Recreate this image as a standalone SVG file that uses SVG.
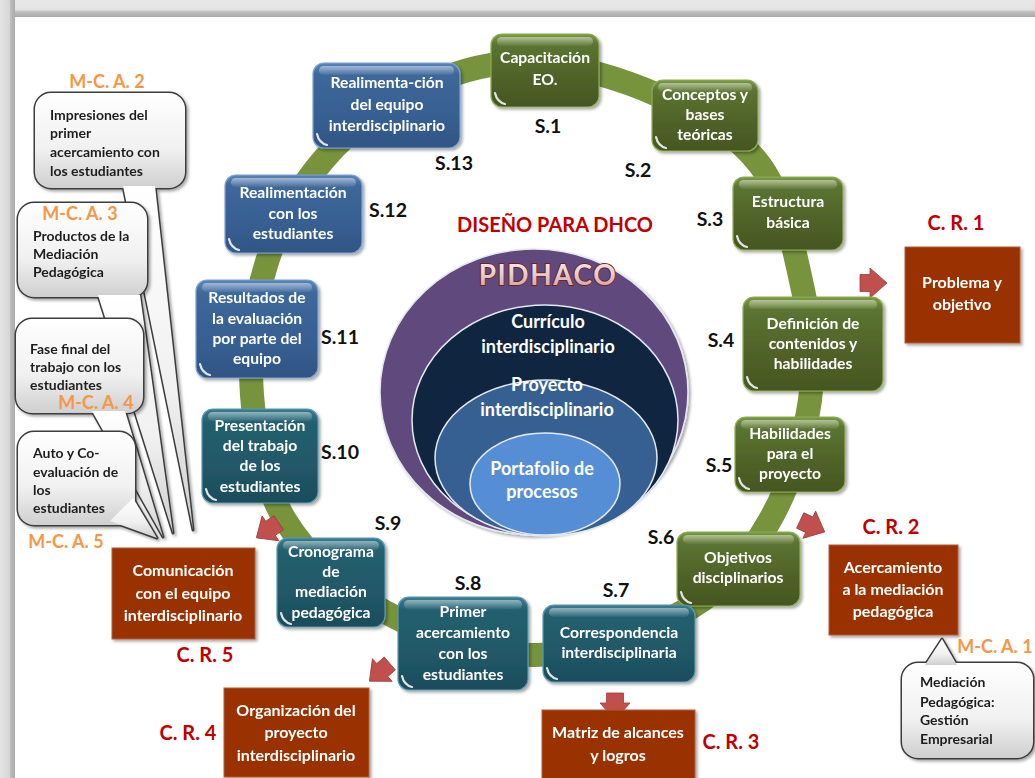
<svg xmlns="http://www.w3.org/2000/svg" width="1035" height="778" viewBox="0 0 1035 778">
  <defs>
    <style>
      text { font-family: Lato, "Open Sans", "Liberation Sans", sans-serif; font-weight: bold; }
      .nt { font-size: 15.7px; fill: #ffffff; text-anchor: middle; }
      .bt { font-size: 16px; fill: #ffffff; text-anchor: middle; }
      .ct { font-size: 18px; fill: #ffffff; text-anchor: middle; }
      .sl { font-size: 19.5px; fill: #111111; text-anchor: middle; }
      .cr { font-size: 20px; fill: #c00000; text-anchor: middle; }
      .mc { font-size: 18px; fill: #f79646; text-anchor: middle; }
      .co { font-size: 14px; fill: #1f1f1f; }
      .ring { fill: none; stroke: #77933c; stroke-width: 24; }
      .green { fill: url(#gGreen); stroke: #8fae55; stroke-width: 1.2; }
      .teal { fill: url(#gTeal); stroke: #5a9bb0; stroke-width: 1.2; }
      .blue { fill: url(#gBlue); stroke: #7ea3d2; stroke-width: 1.2; }
      .gloss { fill: url(#gGloss); }
      .hl { fill: none; stroke: #ffffff; stroke-width: 2.2; stroke-linecap: round; opacity: 0.85; }
      .rbox { fill: #993300; stroke: #b35a3a; stroke-width: 1; }
      .arr { fill: #c0504d; stroke: #9e3c39; stroke-width: 0.8; }
      .co-edge { fill: #3c3c3c; stroke: #3c3c3c; stroke-width: 3; stroke-linejoin: round; }
      .co-fill { fill: url(#gCallout); stroke: none; }
      .ell { stroke: #e4e9f0; stroke-width: 1.5; }
    </style>
    <linearGradient id="gGreen" x1="0" y1="0" x2="0" y2="1">
      <stop offset="0" stop-color="#7c9b45"/>
      <stop offset="0.14" stop-color="#5b7431"/>
      <stop offset="0.6" stop-color="#4f6228"/>
      <stop offset="1" stop-color="#45561f"/>
    </linearGradient>
    <linearGradient id="gTeal" x1="0" y1="0" x2="0" y2="1">
      <stop offset="0" stop-color="#3b7d90"/>
      <stop offset="0.14" stop-color="#24606f"/>
      <stop offset="0.6" stop-color="#215868"/>
      <stop offset="1" stop-color="#1b4c5a"/>
    </linearGradient>
    <linearGradient id="gBlue" x1="0" y1="0" x2="0" y2="1">
      <stop offset="0" stop-color="#5b84b8"/>
      <stop offset="0.14" stop-color="#3d679a"/>
      <stop offset="0.6" stop-color="#376092"/>
      <stop offset="1" stop-color="#305584"/>
    </linearGradient>
    <linearGradient id="gGloss" x1="0" y1="0" x2="0" y2="1">
      <stop offset="0" stop-color="#ffffff" stop-opacity="0.45"/>
      <stop offset="1" stop-color="#ffffff" stop-opacity="0.05"/>
    </linearGradient>
    <linearGradient id="gCallout" x1="0" y1="0" x2="0" y2="1">
      <stop offset="0" stop-color="#ffffff"/>
      <stop offset="0.6" stop-color="#f0f0f0"/>
      <stop offset="1" stop-color="#cfcfcf"/>
    </linearGradient>
    <linearGradient id="gPid" x1="0" y1="0" x2="0" y2="1">
      <stop offset="0" stop-color="#f2f2f2"/>
      <stop offset="0.5" stop-color="#e3cfcf"/>
      <stop offset="1" stop-color="#c99a9a"/>
    </linearGradient>
    <linearGradient id="gTop" x1="0" y1="0" x2="0" y2="1">
      <stop offset="0" stop-color="#e8e8e8"/>
      <stop offset="0.6" stop-color="#e2e2e2"/>
      <stop offset="0.65" stop-color="#c4c4c4"/>
      <stop offset="1" stop-color="#a9a9a9"/>
    </linearGradient>
    <linearGradient id="gLeft" x1="0" y1="0" x2="1" y2="0">
      <stop offset="0" stop-color="#e4e4e4"/>
      <stop offset="0.65" stop-color="#d6d6d6"/>
      <stop offset="0.7" stop-color="#bdbdbd"/>
      <stop offset="1" stop-color="#aaaaaa"/>
    </linearGradient>
    <filter id="sh" x="-20%" y="-20%" width="140%" height="140%">
      <feDropShadow dx="2" dy="2" stdDeviation="1.6" flood-color="#000000" flood-opacity="0.35"/>
    </filter>
    <path id="blk" d="M-13,-8.5 H-3 V-15 L14,0 L-3,15 V8.5 H-13 Z"/>
  </defs>

  <!-- page frame -->
  <rect x="0" y="0" width="1035" height="778" fill="#ffffff"/>
  <rect x="0" y="0" width="1035" height="17" fill="url(#gTop)"/>
  <rect x="0" y="0" width="15" height="778" fill="url(#gLeft)"/>

  <!-- connector ring and result arrows -->
  <g id="connectors">
    <path class="ring" d="M530,62 C570,63.3 621.7,78.8 660,96 C698.3,113.2 736.2,132.7 760,165 C783.8,197.3 794.7,250.8 803,290 C811.3,329.2 815.5,361.7 810,400 C804.5,438.3 790,485.3 770,520 C750,554.7 729.2,585.5 690,608 C650.8,630.5 585.8,654.3 535,655 C484.2,655.7 426.7,634.5 385,612 C343.3,589.5 307.2,556.2 285,520 C262.8,483.8 255.2,437.5 252,395 C248.8,352.5 253.8,304.5 266,265 C278.2,225.5 299.3,187.5 325,158 C350.7,128.5 385.8,104 420,88 C454.2,72 490,60.7 530,62 Z"/>
    <use href="#blk" class="arr" transform="translate(873,283)"/>
    <use href="#blk" class="arr" transform="translate(812,526) rotate(25)"/>
    <use href="#blk" class="arr" transform="translate(615,706) rotate(90)"/>
    <use href="#blk" class="arr" transform="translate(380,672) rotate(139)"/>
    <use href="#blk" class="arr" transform="translate(268,530) rotate(146)"/>
  </g>

  <!-- central nested ellipses -->
  <g id="core">
    <ellipse class="ell" cx="534" cy="392" rx="154" ry="143" fill="#604a7b" filter="url(#sh)"/>
    <ellipse class="ell" cx="545" cy="420" rx="133" ry="115" fill="#10253f"/>
    <ellipse class="ell" cx="546" cy="458" rx="111" ry="78" fill="#376092"/>
    <ellipse class="ell" cx="545" cy="484" rx="75" ry="51" fill="#558ed5"/>
    <text x="548" y="285" font-size="28" font-weight="900" letter-spacing="1.5" text-anchor="middle" fill="url(#gPid)" stroke="#7a1c1c" stroke-width="1.8" paint-order="stroke">PIDHACO</text>
    <text class="ct" x="548" y="328">Currículo</text>
    <text class="ct" x="548" y="353">interdisciplinario</text>
    <text class="ct" x="547" y="391">Proyecto</text>
    <text class="ct" x="547" y="416">interdisciplinario</text>
    <text class="ct" x="542" y="475">Portafolio de</text>
    <text class="ct" x="542" y="498">procesos</text>
  </g>
  <text class="cr" x="555" y="232" font-size="21">DISEÑO PARA DHCO</text>

  <!-- stage nodes -->
  <g id="s1" filter="url(#sh)">
    <rect class="green" x="491" y="34" width="108" height="73" rx="11"/>
    <rect class="gloss" x="497" y="37" width="96" height="9" rx="4.5"/>
    <path class="hl" d="M495,93 q2,9 10,11"/>
    <text class="nt" x="545" y="63">Capacitación</text>
    <text class="nt" x="545" y="85">EO.</text>
  </g>
  <g id="s2" filter="url(#sh)">
    <rect class="green" x="652" y="80" width="106" height="71" rx="11"/>
    <rect class="gloss" x="658" y="83" width="94" height="9" rx="4.5"/>
    <path class="hl" d="M656,137 q2,9 10,11"/>
    <text class="nt" x="705" y="100">Conceptos y</text>
    <text class="nt" x="705" y="120">bases</text>
    <text class="nt" x="705" y="140">teóricas</text>
  </g>
  <g id="s3" filter="url(#sh)">
    <rect class="green" x="733" y="177" width="110" height="73" rx="11"/>
    <rect class="gloss" x="739" y="180" width="98" height="9" rx="4.5"/>
    <path class="hl" d="M737,236 q2,9 10,11"/>
    <text class="nt" x="788" y="207">Estructura</text>
    <text class="nt" x="788" y="228">básica</text>
  </g>
  <g id="s4" filter="url(#sh)">
    <rect class="green" x="743" y="297" width="140" height="94" rx="11"/>
    <rect class="gloss" x="749" y="300" width="128" height="9" rx="4.5"/>
    <path class="hl" d="M747,377 q2,9 10,11"/>
    <text class="nt" x="813" y="329">Definición de</text>
    <text class="nt" x="813" y="349">contenidos y</text>
    <text class="nt" x="813" y="369">habilidades</text>
  </g>
  <g id="s5" filter="url(#sh)">
    <rect class="green" x="735" y="417" width="110" height="75" rx="11"/>
    <rect class="gloss" x="741" y="420" width="98" height="9" rx="4.5"/>
    <path class="hl" d="M739,478 q2,9 10,11"/>
    <text class="nt" x="790" y="439">Habilidades</text>
    <text class="nt" x="790" y="459">para el</text>
    <text class="nt" x="790" y="479">proyecto</text>
  </g>
  <g id="s6" filter="url(#sh)">
    <rect class="green" x="677" y="532" width="123" height="74" rx="11"/>
    <rect class="gloss" x="683" y="535" width="111" height="9" rx="4.5"/>
    <path class="hl" d="M681,592 q2,9 10,11"/>
    <text class="nt" x="738" y="563">Objetivos</text>
    <text class="nt" x="738" y="583">disciplinarios</text>
  </g>
  <g id="s7" filter="url(#sh)">
    <rect class="teal" x="543" y="605" width="152" height="77" rx="11"/>
    <rect class="gloss" x="549" y="608" width="140" height="9" rx="4.5"/>
    <path class="hl" d="M547,668 q2,9 10,11"/>
    <text class="nt" x="619" y="638">Correspondencia</text>
    <text class="nt" x="619" y="658">interdisciplinaria</text>
  </g>
  <g id="s8" filter="url(#sh)">
    <rect class="teal" x="398" y="597" width="130" height="93" rx="11"/>
    <rect class="gloss" x="404" y="600" width="118" height="9" rx="4.5"/>
    <path class="hl" d="M402,676 q2,9 10,11"/>
    <text class="nt" x="463" y="617">Primer</text>
    <text class="nt" x="463" y="638">acercamiento</text>
    <text class="nt" x="463" y="659">con los</text>
    <text class="nt" x="463" y="680">estudiantes</text>
  </g>
  <g id="s9" filter="url(#sh)">
    <rect class="teal" x="277" y="538" width="108" height="89" rx="11"/>
    <rect class="gloss" x="283" y="541" width="96" height="9" rx="4.5"/>
    <path class="hl" d="M281,613 q2,9 10,11"/>
    <text class="nt" x="331" y="557">Cronograma</text>
    <text class="nt" x="331" y="577">de</text>
    <text class="nt" x="331" y="597">mediación</text>
    <text class="nt" x="331" y="618">pedagógica</text>
  </g>
  <g id="s10" filter="url(#sh)">
    <rect class="teal" x="202" y="409" width="116" height="94" rx="11"/>
    <rect class="gloss" x="208" y="412" width="104" height="9" rx="4.5"/>
    <path class="hl" d="M206,489 q2,9 10,11"/>
    <text class="nt" x="260" y="431">Presentación</text>
    <text class="nt" x="260" y="451">del trabajo</text>
    <text class="nt" x="260" y="471">de los</text>
    <text class="nt" x="260" y="492">estudiantes</text>
  </g>
  <g id="s11" filter="url(#sh)">
    <rect class="blue" x="196" y="280" width="122" height="98" rx="11"/>
    <rect class="gloss" x="202" y="283" width="110" height="9" rx="4.5"/>
    <path class="hl" d="M200,364 q2,9 10,11"/>
    <text class="nt" x="257" y="303">Resultados de</text>
    <text class="nt" x="257" y="324">la evaluación</text>
    <text class="nt" x="257" y="344">por parte del</text>
    <text class="nt" x="257" y="364">equipo</text>
  </g>
  <g id="s12" filter="url(#sh)">
    <rect class="blue" x="225" y="175" width="137" height="78" rx="11"/>
    <rect class="gloss" x="231" y="178" width="125" height="9" rx="4.5"/>
    <path class="hl" d="M229,239 q2,9 10,11"/>
    <text class="nt" x="293" y="198">Realimentación</text>
    <text class="nt" x="293" y="219">con los</text>
    <text class="nt" x="293" y="239">estudiantes</text>
  </g>
  <g id="s13" filter="url(#sh)">
    <rect class="blue" x="313" y="63" width="147" height="85" rx="11"/>
    <rect class="gloss" x="319" y="66" width="135" height="9" rx="4.5"/>
    <path class="hl" d="M317,134 q2,9 10,11"/>
    <text class="nt" x="387" y="88">Realimenta-ción</text>
    <text class="nt" x="387" y="110">del equipo</text>
    <text class="nt" x="387" y="131">interdisciplinario</text>
  </g>

  <!-- stage labels -->
  <g id="stage-labels">
    <text class="sl" x="548" y="133">S.1</text>
    <text class="sl" x="638" y="177">S.2</text>
    <text class="sl" x="710" y="226">S.3</text>
    <text class="sl" x="721" y="347">S.4</text>
    <text class="sl" x="719" y="472">S.5</text>
    <text class="sl" x="661" y="544">S.6</text>
    <text class="sl" x="616" y="597">S.7</text>
    <text class="sl" x="468" y="590">S.8</text>
    <text class="sl" x="388" y="530">S.9</text>
    <text class="sl" x="340" y="459">S.10</text>
    <text class="sl" x="340" y="344">S.11</text>
    <text class="sl" x="388" y="217">S.12</text>
    <text class="sl" x="454" y="170">S.13</text>
  </g>

  <!-- results boxes -->
  <g id="cr1" filter="url(#sh)">
    <rect class="rbox" x="905" y="247" width="115" height="96"/>
    <text class="bt" x="962" y="288">Problema y</text>
    <text class="bt" x="962" y="310">objetivo</text>
  </g>
  <g id="cr2" filter="url(#sh)">
    <rect class="rbox" x="829" y="545" width="129" height="90"/>
    <text class="bt" x="893" y="573">Acercamiento</text>
    <text class="bt" x="893" y="595">a la mediación</text>
    <text class="bt" x="893" y="617">pedagógica</text>
  </g>
  <g id="cr3" filter="url(#sh)">
    <rect class="rbox" x="542" y="710" width="153" height="72"/>
    <text class="bt" x="618" y="738">Matriz de alcances</text>
    <text class="bt" x="618" y="761">y logros</text>
  </g>
  <g id="cr4" filter="url(#sh)">
    <rect class="rbox" x="224" y="688" width="145" height="89"/>
    <text class="bt" x="296" y="716">Organización del</text>
    <text class="bt" x="296" y="738">proyecto</text>
    <text class="bt" x="296" y="761">interdisciplinario</text>
  </g>
  <g id="cr5" filter="url(#sh)">
    <rect class="rbox" x="112" y="548" width="143" height="91"/>
    <text class="bt" x="183" y="576">Comunicación</text>
    <text class="bt" x="183" y="599">con el equipo</text>
    <text class="bt" x="183" y="621">interdisciplinario</text>
  </g>
  <g id="result-labels">
    <text class="cr" x="956" y="230">C. R. 1</text>
    <text class="cr" x="891" y="534">C. R. 2</text>
    <text class="cr" x="731" y="749">C. R. 3</text>
    <text class="cr" x="188" y="740">C. R. 4</text>
    <text class="cr" x="205" y="662">C. R. 5</text>
  </g>

  <!-- callouts -->
  <g id="mca2" filter="url(#sh)">
    <rect class="co-edge" x="35" y="93" width="150" height="95" rx="16"/>
    <path class="co-edge" d="M123,186 L193,530 L155,186 Z"/>
    <rect class="co-fill" x="35" y="93" width="150" height="95" rx="16"/>
    <path class="co-fill" d="M123,186 L193,530 L155,186 Z"/>
    <text class="co" x="50" y="120">Impresiones del</text>
    <text class="co" x="50" y="138">primer</text>
    <text class="co" x="50" y="157">acercamiento con</text>
    <text class="co" x="50" y="176">los estudiantes</text>
  </g>
  <g id="mca3" filter="url(#sh)">
    <rect class="co-edge" x="18" y="203" width="129" height="94" rx="16"/>
    <path class="co-edge" d="M98,295 L173,533 L140,295 Z"/>
    <rect class="co-fill" x="18" y="203" width="129" height="94" rx="16"/>
    <path class="co-fill" d="M98,295 L173,533 L140,295 Z"/>
    <text class="co" x="33" y="241">Productos de la</text>
    <text class="co" x="33" y="259">Mediación</text>
    <text class="co" x="33" y="277">Pedagógica</text>
  </g>
  <g id="mca4" filter="url(#sh)">
    <rect class="co-edge" x="16" y="319" width="127" height="94" rx="16"/>
    <path class="co-edge" d="M92,411 L163,537 L125,411 Z"/>
    <rect class="co-fill" x="16" y="319" width="127" height="94" rx="16"/>
    <path class="co-fill" d="M92,411 L163,537 L125,411 Z"/>
    <text class="co" x="30" y="354">Fase final del</text>
    <text class="co" x="30" y="372">trabajo con los</text>
    <text class="co" x="30" y="390">estudiantes</text>
  </g>
  <g id="mca5" filter="url(#sh)">
    <rect class="co-edge" x="18" y="432" width="117" height="93" rx="16"/>
    <path class="co-edge" d="M110,521 L157,538 L133,498 Z"/>
    <rect class="co-fill" x="18" y="432" width="117" height="93" rx="16"/>
    <path class="co-fill" d="M110,521 L157,538 L133,498 Z"/>
    <text class="co" x="33" y="458">Auto y Co-</text>
    <text class="co" x="33" y="477">evaluación de</text>
    <text class="co" x="33" y="495">los</text>
    <text class="co" x="33" y="513">estudiantes</text>
  </g>
  <g id="mca1" filter="url(#sh)">
    <rect class="co-edge" x="902" y="663" width="131" height="95" rx="16"/>
    <path class="co-edge" d="M925,665 L942,639 L957,665 Z"/>
    <rect class="co-fill" x="902" y="663" width="131" height="95" rx="16"/>
    <path class="co-fill" d="M925,665 L942,639 L957,665 Z"/>
    <text class="co" x="920" y="687">Mediación</text>
    <text class="co" x="920" y="707">Pedagógica:</text>
    <text class="co" x="920" y="725">Gestión</text>
    <text class="co" x="920" y="744">Empresarial</text>
  </g>
  <g id="callout-labels">
    <text class="mc" x="107" y="88">M-C. A. 2</text>
    <text class="mc" x="80" y="220" font-size="17">M-C. A. 3</text>
    <text class="mc" x="96" y="409">M-C. A. 4</text>
    <text class="mc" x="66" y="548">M-C. A. 5</text>
    <text class="mc" x="995" y="653">M-C. A. 1</text>
  </g>
</svg>
